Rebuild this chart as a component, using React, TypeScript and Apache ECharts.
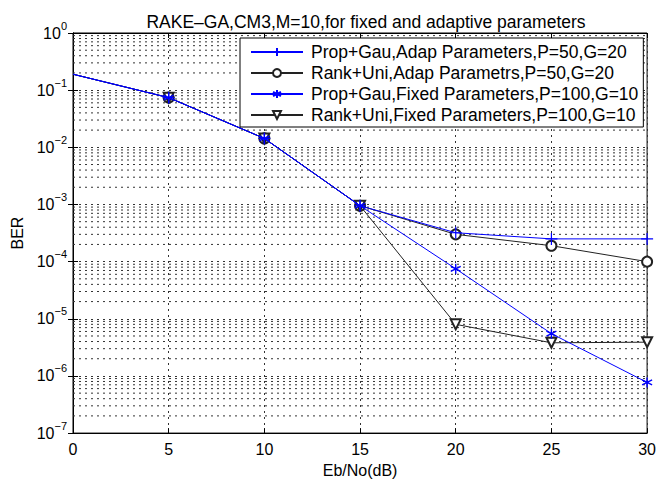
import React, { useEffect, useRef } from "react";
import * as echarts from "echarts";

const snr = [0, 5, 10, 15, 20, 25, 30];
const propGauAdap = [0.19, 0.074, 0.0143, 0.00095, 0.00032, 0.00025, 0.00025];
const rankUniAdap = [0.19, 0.074, 0.0143, 0.00095, 0.0003, 0.00019, 0.0001];
const propGauFixed = [0.19, 0.074, 0.0143, 0.00095, 0.000075, 0.0000055, 0.00000077];
const rankUniFixed = [0.19, 0.074, 0.0143, 0.00095, 0.000008, 0.0000038, 0.0000039];
const seriesNames = [
  "Prop+Gau,Adap Parameters,P=50,G=20",
  "Rank+Uni,Adap Parametrs,P=50,G=20",
  "Prop+Gau,Fixed Parameters,P=100,G=10",
  "Rank+Uni,Fixed Parameters,P=100,G=10",
];
const decades = [-7, -6, -5, -4, -3, -2, -1];
const minorMults = [2, 3, 4, 5, 6, 7, 8, 9];

const BLUE = "#0000ff";
const BLACK = "#222222";
const FONT = "Liberation Sans, Arial, Helvetica, sans-serif";

const plusPath = "path://M5 0 L5 10 M0 5 L10 5";
const starPath = "path://M5 0 L5 10 M0.67 2.5 L9.33 7.5 M0.67 7.5 L9.33 2.5";

export default function App() {
  const ref = useRef<HTMLDivElement>(null);
  useEffect(() => {
    if (!ref.current) return;
    const chart = echarts.init(ref.current, undefined, { renderer: "svg" });
    // first point (x = 0) drawn without a marker, as in the reference
    const pairs = (ys: number[]) =>
      snr.map((x, i) => (i === 0 ? { value: [x, ys[i]], symbol: "none" } : [x, ys[i]]));
    const minorData: any[] = [];
    decades.forEach((d) =>
      minorMults.forEach((m) => {
        const v = m * Math.pow(10, d);
        minorData.push([0, v], [30, v], [30, null]);
      })
    );
    const gridDash = { type: [2, 4] as any, color: "#333", width: 1 };
    const labelFmt = (v: number) => {
      const e = Math.round(Math.log10(v));
      return `{b|10}{s|${e < 0 ? "−" + -e : e}}`;
    };
    const yLabelRich = {
      b: { fontSize: 16, fontFamily: FONT, color: "#000" },
      s: { fontSize: 11, fontFamily: FONT, color: "#000", padding: [0, 0, 15, 0] },
    };
    const option: any = {
      animation: false,
      backgroundColor: "#fff",
      title: {
        text: "RAKE–GA,CM3,M=10,for fixed and adaptive parameters",
        left: 361,
        textAlign: "center",
        top: 8,
        textStyle: { fontFamily: FONT, fontSize: 17.5, fontWeight: "normal", color: "#000" },
      },
      legend: {
        orient: "vertical",
        left: 240,
        top: 38,
        z: 20,
        padding: [5, 5, 3, 10],
        itemGap: 3,
        itemWidth: 52,
        itemHeight: 10,
        backgroundColor: "#fff",
        borderColor: "#000",
        borderWidth: 1,
        borderRadius: 0,
        textStyle: { fontFamily: FONT, fontSize: 17.5, color: "#000", padding: [0, 0, 0, 3] },
        data: seriesNames,
      },
      grid: {
        left: 73,
        right: 10,
        top: 33,
        bottom: 41,
        show: true,
        borderColor: "#000",
        borderWidth: 1,
        backgroundColor: "#fff",
      },
      xAxis: [
        {
          type: "value",
          min: 0,
          max: 30,
          interval: 5,
          name: "Eb/No(dB)",
          nameLocation: "middle",
          nameGap: 24,
          nameTextStyle: { fontFamily: FONT, fontSize: 16, color: "#000" },
          axisLine: { show: true, lineStyle: { color: "#000" } },
          axisTick: { show: true, inside: true, length: 5, lineStyle: { color: "#000" } },
          axisLabel: { fontFamily: FONT, fontSize: 16, color: "#000", margin: 8 },
          splitLine: { show: true, lineStyle: gridDash },
        },
        {
          type: "value",
          position: "top",
          min: 0,
          max: 30,
          interval: 5,
          axisLine: { show: true, lineStyle: { color: "#000" } },
          axisTick: { show: true, inside: true, length: 5, lineStyle: { color: "#000" } },
          axisLabel: { show: false },
          splitLine: { show: false },
        },
      ],
      yAxis: [
        {
          type: "log",
          logBase: 10,
          min: 1e-7,
          max: 1,
          splitNumber: 7,
          name: "BER",
          nameLocation: "middle",
          nameGap: 47,
          nameRotate: 90,
          nameTextStyle: { fontFamily: FONT, fontSize: 16, color: "#000" },
          axisLine: { show: true, lineStyle: { color: "#000" } },
          axisTick: { show: true, inside: true, length: 5, lineStyle: { color: "#000" } },
          axisLabel: { formatter: labelFmt, rich: yLabelRich, margin: 6 },
          splitLine: { show: true, lineStyle: gridDash },
        },
        {
          type: "log",
          logBase: 10,
          min: 1e-7,
          max: 1,
          splitNumber: 7,
          position: "right",
          axisLine: { show: true, lineStyle: { color: "#000" } },
          axisTick: { show: true, inside: true, length: 5, lineStyle: { color: "#000" } },
          axisLabel: { show: false },
          splitLine: { show: false },
        },
      ],
      series: [
        {
          name: "minor-grid",
          type: "line",
          data: minorData,
          silent: true,
          symbol: "none",
          connectNulls: false,
          z: 1,
          lineStyle: { type: [2, 4], color: "#333", width: 1 },
        },
        {
          name: seriesNames[0],
          type: "line",
          data: pairs(propGauAdap),
          symbol: plusPath,
          symbolSize: 12,
          z: 4,
          lineStyle: { color: BLUE, width: 1 },
          itemStyle: { color: BLUE, borderColor: BLUE, borderWidth: 1.2 },
        },
        {
          name: seriesNames[1],
          type: "line",
          data: pairs(rankUniAdap),
          symbol: "emptyCircle",
          symbolSize: 10,
          z: 3,
          lineStyle: { color: BLACK, width: 1 },
          itemStyle: { color: BLACK, borderColor: BLACK, borderWidth: 1 },
        },
        {
          name: seriesNames[2],
          type: "line",
          data: pairs(propGauFixed),
          symbol: starPath,
          symbolSize: 10,
          z: 5,
          lineStyle: { color: BLUE, width: 1 },
          itemStyle: { color: BLUE, borderColor: BLUE, borderWidth: 1.4 },
        },
        {
          name: seriesNames[3],
          type: "line",
          data: pairs(rankUniFixed),
          symbol: "emptyTriangle",
          symbolRotate: 180,
          symbolSize: 10,
          z: 3,
          lineStyle: { color: BLACK, width: 1 },
          itemStyle: { color: BLACK, borderColor: BLACK, borderWidth: 1 },
        },
      ],
    };
    chart.setOption(option);
    return () => chart.dispose();
  }, []);
  return <div ref={ref} style={{ width: 659, height: 483, position: "absolute", left: 0, top: 0 }} />;
}
